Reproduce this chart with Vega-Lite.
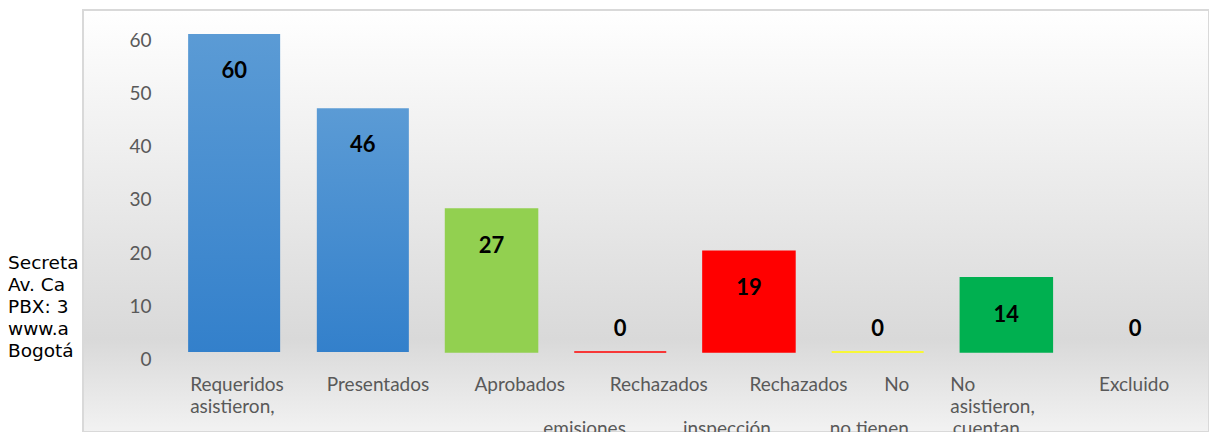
{
  "$schema": "https://vega.github.io/schema/vega-lite/v6.json",
  "width": 1126,
  "height": 422,
  "autosize": {"type": "none"},
  "padding": {"left": 83, "top": 10, "right": 0, "bottom": 0},
  "background": "white",
  "config": {"view": {"stroke": null}},
  "title": {
    "text": ["Secreta", "Av. Ca", "PBX: 3", "www.a", "Bogotá"],
    "orient": "top",
    "anchor": "start",
    "frame": "group",
    "align": "left",
    "baseline": "top",
    "offset": 0,
    "dx": -75,
    "dy": 351,
    "font": "DejaVu Sans",
    "fontSize": 18.5,
    "fontWeight": "normal",
    "color": "#000000",
    "lineHeight": 22
  },
  "datasets": {
    "cats": [
      {"label": "Requeridos|asistieron,", "value": 60, "tipo": "req"},
      {"label": "Presentados", "value": 46, "tipo": "pres"},
      {"label": "Aprobados", "value": 27, "tipo": "apr"},
      {"label": "\u200b\u2003\u2003\u2003\u2002\u2002\u2009\u2009Rechazados|\u200b|emisiones", "value": 0, "tipo": "rech_em"},
      {"label": "\u200b\u2003\u2003\u2003\u2002\u2002\u2009\u2009Rechazados|\u200b|inspección", "value": 19, "tipo": "rech_insp"},
      {"label": "\u200b\u2003\u2003\u2002\u2002\u2009\u2009\u2009No|\u200b|no tienen", "value": 0, "tipo": "no_tienen"},
      {"label": "No|asistieron,|\u200b\u2009cuentan", "value": 14, "tipo": "no_asist"},
      {"label": "Excluido", "value": 0, "tipo": "excl"}
    ]
  },
  "layer": [
    {
      "data": {"values": [{"frame": 1}]},
      "mark": {
        "type": "rect",
        "stroke": "#d9d9d9",
        "strokeWidth": 2,
        "fill": {
          "gradient": "linear", "x1": 0, "y1": 0, "x2": 0, "y2": 1,
          "stops": [
            {"offset": 0, "color": "#ffffff"},
            {"offset": 0.78, "color": "#d9d9d9"},
            {"offset": 1, "color": "#f2f2f2"}
          ]
        }
      },
      "encoding": {}
    },
    {
      "data": {"name": "cats"},
      "transform": [{"filter": "datum.tipo != 'req' && datum.tipo != 'pres'"}],
      "mark": {"type": "bar", "strokeWidth": 1.5},
      "encoding": {
        "x": {
          "field": "label", "type": "nominal", "sort": null,
          "scale": {
            "domain": ["Requeridos|asistieron,", "Presentados", "Aprobados", "\u200b\u2003\u2003\u2003\u2002\u2002\u2009\u2009Rechazados|\u200b|emisiones", "\u200b\u2003\u2003\u2003\u2002\u2002\u2009\u2009Rechazados|\u200b|inspección", "\u200b\u2003\u2003\u2002\u2002\u2009\u2009\u2009No|\u200b|no tienen", "No|asistieron,|\u200b\u2009cuentan", "Excluido"],
            "paddingInner": 0.285, "paddingOuter": 0.517, "align": 0.79
          },
          "axis": {
            "orient": "bottom",
            "title": null,
            "domain": false,
            "ticks": false,
            "labelPadding": 0,
            "offset": -57,
            "labelAngle": 0,
            "labelBaseline": "top",
            "labelFont": "Lato",
            "labelFontSize": 19,
            "labelColor": "#595959",
            "labelLineHeight": 22,
            "labelLimit": 0,
            "labelOverlap": false,
            "labelFlush": false,
            "labelExpr": "split(datum.label, '|')",
            "labelAlign": "left",
            "labelOffset": {"condition": [
              {"test": "indexof(datum.value, 'Requeridos') >= 0", "value": -44},
              {"test": "datum.value == 'Presentados'", "value": -36},
              {"test": "datum.value == 'Aprobados'", "value": -17},
              {"test": "indexof(datum.value, 'emisiones') >= 0", "value": -77},
              {"test": "indexof(datum.value, 'inspecci') >= 0", "value": -66},
              {"test": "indexof(datum.value, 'no tienen') >= 0", "value": -48},
              {"test": "indexof(datum.value, 'cuentan') >= 0", "value": -56}
            ], "value": -36},
            "zindex": 1
          }
        },
        "y": {
          "field": "value", "type": "quantitative",
          "scale": {"domain": [-15.094, 64.528], "nice": false, "zero": false},
          "axis": {
            "title": null,
            "values": [0, 10, 20, 30, 40, 50, 60],
            "domain": false,
            "ticks": false,
            "grid": false,
            "labelPadding": 0,
            "offset": -68,
            "labelOffset": 7,
            "labelFont": "Lato",
            "labelFontSize": 19,
            "labelColor": "#595959",
            "zindex": 1
          }
        },
        "y2": {"datum": 0},
        "color": {
          "field": "tipo", "type": "nominal", "legend": null,
          "scale": {"domain": ["apr", "rech_em", "rech_insp", "no_tienen", "no_asist", "excl"], "range": ["#92d050", "#ff0000", "#ff0000", "#ffff00", "#00b050", "rgba(0,0,0,0)"]}
        },
        "stroke": {
          "field": "tipo", "type": "nominal", "legend": null,
          "scale": {"domain": ["apr", "rech_em", "rech_insp", "no_tienen", "no_asist", "excl"], "range": ["#92d050", "#ff0000", "#ff0000", "#ffff00", "#00b050", "rgba(0,0,0,0)"]}
        }
      }
    },
    {
      "data": {"name": "cats"},
      "transform": [{"filter": "datum.tipo == 'req' || datum.tipo == 'pres'"}],
      "mark": {
        "type": "bar",
        "fill": {
          "gradient": "linear", "x1": 0, "y1": 0, "x2": 0, "y2": 1,
          "stops": [
            {"offset": 0, "color": "#5b9bd5"},
            {"offset": 1, "color": "#3380cb"}
          ]
        }
      },
      "encoding": {
        "x": {"field": "label", "type": "nominal", "sort": null},
        "y": {"field": "value", "type": "quantitative"},
        "y2": {"datum": 0}
      }
    },
    {
      "data": {"name": "cats"},
      "transform": [{"filter": "datum.value > 0"}],
      "mark": {"type": "text", "font": "Lato", "fontWeight": "bold", "fontSize": 22, "color": "#000000", "baseline": "middle", "dy": 37},
      "encoding": {
        "x": {"field": "label", "type": "nominal", "sort": null},
        "y": {"field": "value", "type": "quantitative"},
        "text": {"field": "value", "type": "quantitative"}
      }
    },
    {
      "data": {"name": "cats"},
      "transform": [{"filter": "datum.value == 0"}],
      "mark": {"type": "text", "font": "Lato", "fontWeight": "bold", "fontSize": 22, "color": "#000000", "baseline": "middle", "dy": -23},
      "encoding": {
        "x": {"field": "label", "type": "nominal", "sort": null},
        "y": {"field": "value", "type": "quantitative"},
        "text": {"field": "value", "type": "quantitative"}
      }
    }
  ]
}
